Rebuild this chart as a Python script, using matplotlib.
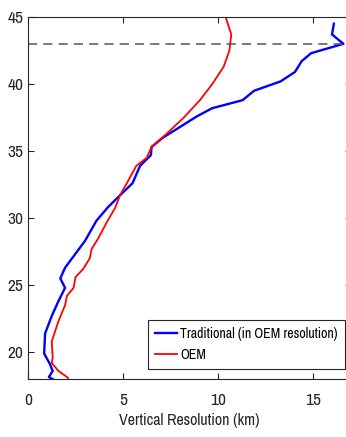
"""Vertical resolution profiles: traditional vs OEM."""
import matplotlib
matplotlib.use('Agg')
from matplotlib import pyplot as plt

# Traditional retrieval (in OEM resolution)
trad_alt = [17.9, 18.15, 18.6, 19.1, 19.9, 21.4, 22.7, 23.8, 24.8, 25.5,
            26.3, 28.3, 29.8, 30.8, 31.7, 32.6, 33.9, 34.7, 35.3, 36.0,
            36.8, 37.6, 38.2, 38.8, 39.5, 40.2, 40.9, 41.7, 42.3, 43.0,
            43.7, 44.5]
trad_res = [1.4, 1.1, 1.3, 1.16, 0.85, 0.9, 1.25, 1.6, 1.95, 1.7,
            1.95, 3.0, 3.6, 4.2, 4.84, 5.5, 5.9, 6.47, 6.5, 7.1,
            8.0, 8.9, 9.7, 11.3, 11.9, 13.3, 14.05, 14.4, 14.9, 16.6,
            16.0, 16.1]

# OEM retrieval
oem_alt = [17.9, 18.1, 18.6, 19.2, 19.6, 20.8, 22.3, 23.5, 24.2, 24.8,
           25.6, 26.2, 27.0, 27.7, 28.5, 29.7, 30.8, 31.7, 32.6, 33.9,
           34.5, 35.3, 36.3, 37.5, 38.8, 40.0, 41.3, 42.5, 43.7, 45.0]
oem_res = [2.1, 2.1, 1.6, 1.25, 1.3, 1.25, 1.6, 1.95, 2.05, 2.4,
           2.5, 2.9, 3.25, 3.35, 3.7, 4.15, 4.6, 4.84, 5.2, 5.7,
           6.25, 6.5, 7.3, 8.2, 9.05, 9.7, 10.3, 10.6, 10.7, 10.4]

ref_alt = 43.0
x_ticks = [0, 5, 10, 15]
y_ticks = [20, 25, 30, 35, 40, 45]

plt.rcParams['font.family'] = ['Archivo Narrow', 'DejaVu Sans']
grey = '#262626'

fig = plt.figure(figsize=(3.46, 4.37), dpi=100)
ax = fig.add_axes([28 / 346, 58 / 437, 323 / 346, 362 / 437])

ax.plot(trad_res, trad_alt, color='blue', lw=1.7,
        label='Traditional (in OEM resolution)')
ax.plot(oem_res, oem_alt, color='red', lw=1.3, label='OEM')
ax.axhline(ref_alt, color='#555555', lw=1.1, ls=(0, (6, 4)))

ax.set_xlim(0, 17)
ax.set_ylim(18, 45)
ax.set_xticks(x_ticks)
ax.set_yticks(y_ticks)
ax.tick_params(direction='in', top=True, right=True, length=4,
               colors=grey, labelsize=12.5, labelcolor=grey)
ax.tick_params(axis='x', pad=10)
for spine in ax.spines.values():
    spine.set_color(grey)
    spine.set_linewidth(0.8)

ax.set_xlabel('Vertical Resolution (km)', fontsize=11.5, color=grey,
              labelpad=4)

leg = ax.legend(loc='lower right', bbox_to_anchor=(0.98, 0.028),
                borderaxespad=0, fontsize=10, handlelength=1.6,
                handletextpad=0.2, fancybox=False, framealpha=1,
                borderpad=0.5, labelspacing=0.5)
leg.get_frame().set_edgecolor(grey)
leg.get_frame().set_linewidth(0.8)

fig.savefig('out.png', dpi=100)
